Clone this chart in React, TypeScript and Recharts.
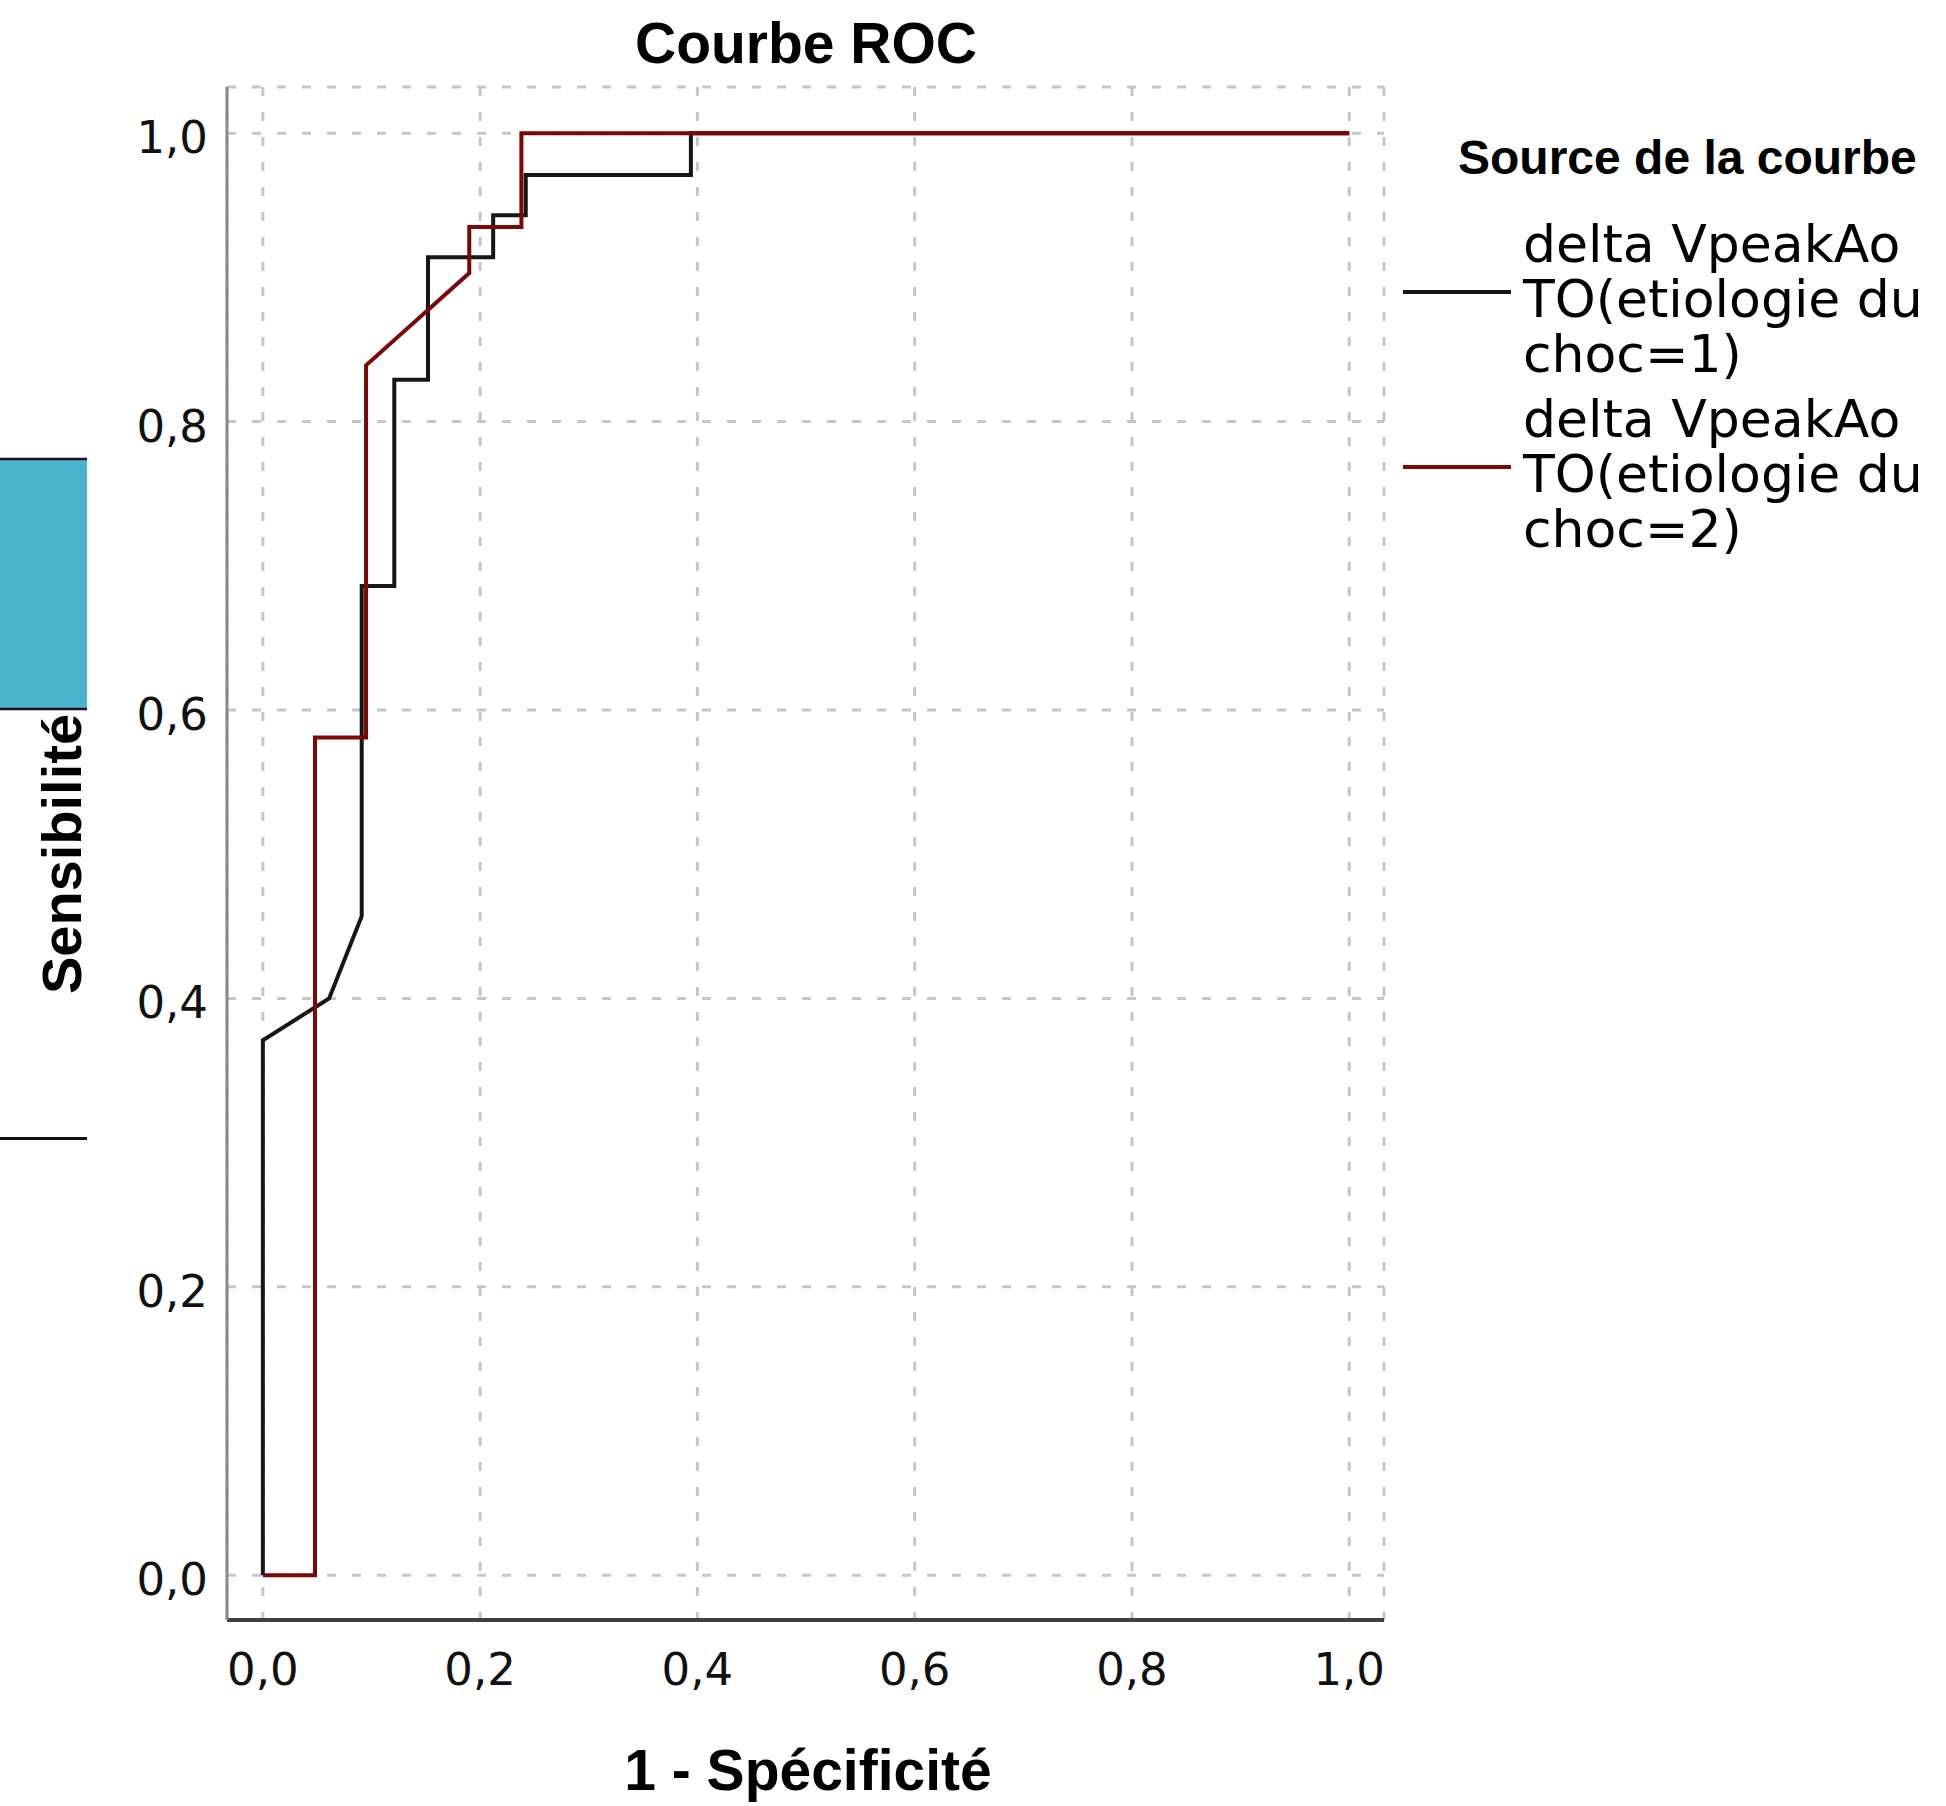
import React from "react";
import { LineChart, Line, XAxis, YAxis, CartesianGrid } from "recharts";

// ROC points (1 - specificity, sensitivity)
const fprChoc1 = [0, 0, 0.061, 0.091, 0.091, 0.121, 0.121, 0.152, 0.152, 0.212, 0.212, 0.242, 0.242, 0.394, 0.394, 1];
const sensChoc1 = [0, 0.371, 0.4, 0.457, 0.686, 0.686, 0.829, 0.829, 0.914, 0.914, 0.943, 0.943, 0.971, 0.971, 1, 1];

const fprChoc2 = [0, 0.048, 0.048, 0.095, 0.095, 0.19, 0.19, 0.238, 0.238, 1];
const sensChoc2 = [0, 0, 0.581, 0.581, 0.839, 0.903, 0.935, 0.935, 1, 1];

const axisTicks = [0, 0.2, 0.4, 0.6, 0.8, 1];

const legendTitle = "Source de la courbe";
const legendChoc1 = ["delta VpeakAo", "TO(etiologie du", "choc=1)"];
const legendChoc2 = ["delta VpeakAo", "TO(etiologie du", "choc=2)"];

const curve1 = fprChoc1.map((x, i) => ({ x, y: sensChoc1[i] }));
const curve2 = fprChoc2.map((x, i) => ({ x, y: sensChoc2[i] }));

const BLACK = "#161616";
const RED = "#7a0808";
const REGULAR = "'DejaVu Sans', sans-serif";
const BOLD = "'Liberation Sans', Arial, sans-serif";

const fmt = (v: number) => v.toFixed(1).replace(".", ",");

function YTick({ x, y, payload }: any) {
  return (
    <text x={x} y={y} dy={20} textAnchor="end" fontFamily={REGULAR} fontSize={45} fill="#111">
      {fmt(payload.value)}
    </text>
  );
}

function XTick({ x, y, payload }: any) {
  return (
    <text x={x} y={y} dy={32} textAnchor="middle" fontFamily={REGULAR} fontSize={45} fill="#111">
      {fmt(payload.value)}
    </text>
  );
}

function LegendItem({ lines, color, top }: { lines: string[]; color: string; top: number }) {
  return (
    <g>
      <line x1={1403} x2={1511} y1={top + 30} y2={top + 30} stroke={color} strokeWidth={4} />
      {lines.map((t, i) => (
        <text key={i} x={1523} y={top + i * 55} fontFamily={REGULAR} fontSize={52} fill="#000">
          {t}
        </text>
      ))}
    </g>
  );
}

export default function App() {
  return (
    <div style={{ position: "absolute", left: 0, top: 0, width: 1946, height: 1806, background: "#fff" }}>
      <LineChart width={1946} height={1806} margin={{ top: 87, right: 562, bottom: 0, left: 0 }}>
        <CartesianGrid stroke="#c6c6c6" strokeWidth={3} strokeDasharray="9 16" />
        <XAxis
          dataKey="x"
          type="number"
          domain={[-0.033, 1.032]}
          allowDataOverflow
          ticks={axisTicks}
          height={186}
          tickSize={0}
          tickMargin={33}
          tickLine={false}
          axisLine={{ stroke: "#404040", strokeWidth: 4 }}
          tick={<XTick />}
        />
        <YAxis
          type="number"
          domain={[-0.031, 1.032]}
          allowDataOverflow
          ticks={axisTicks}
          width={227}
          tickSize={0}
          tickMargin={19}
          tickLine={false}
          axisLine={{ stroke: "#8a8a8a", strokeWidth: 3 }}
          tick={<YTick />}
        />
        <Line data={curve1} dataKey="y" type="linear" dot={false} stroke={BLACK} strokeWidth={4} isAnimationActive={false} />
        <Line data={curve2} dataKey="y" type="linear" dot={false} stroke={RED} strokeWidth={4} isAnimationActive={false} />
      </LineChart>

      <svg width={1946} height={1806} style={{ position: "absolute", left: 0, top: 0, pointerEvents: "none" }}>
        <text x={806} y={63} textAnchor="middle" fontFamily={BOLD} fontWeight="bold" fontSize={57} fill="#000">
          Courbe ROC
        </text>
        <text x={808} y={1790} textAnchor="middle" fontFamily={BOLD} fontWeight="bold" fontSize={57} fill="#000">
          1 - Spécificité
        </text>
        <text
          x={81}
          y={854}
          transform="rotate(-90, 81, 854)"
          textAnchor="middle"
          fontFamily={BOLD}
          fontWeight="bold"
          fontSize={56}
          fill="#000"
        >
          Sensibilité
        </text>

        <text x={1458} y={174} fontFamily={BOLD} fontWeight="bold" fontSize={48} fill="#000">
          {legendTitle}
        </text>
        <LegendItem lines={legendChoc1} color={BLACK} top={262} />
        <LegendItem lines={legendChoc2} color={RED} top={437} />

        {/* strip on the left edge of the screenshot */}
        <rect x={0} y={458} width={87} height={252} fill="#48b4cb" />
        <line x1={0} x2={87} y1={459} y2={459} stroke="#111" strokeWidth={2.5} />
        <line x1={0} x2={87} y1={709} y2={709} stroke="#111" strokeWidth={2.5} />
        <line x1={0} x2={87} y1={1138.5} y2={1138.5} stroke="#111" strokeWidth={3} />
      </svg>
    </div>
  );
}
